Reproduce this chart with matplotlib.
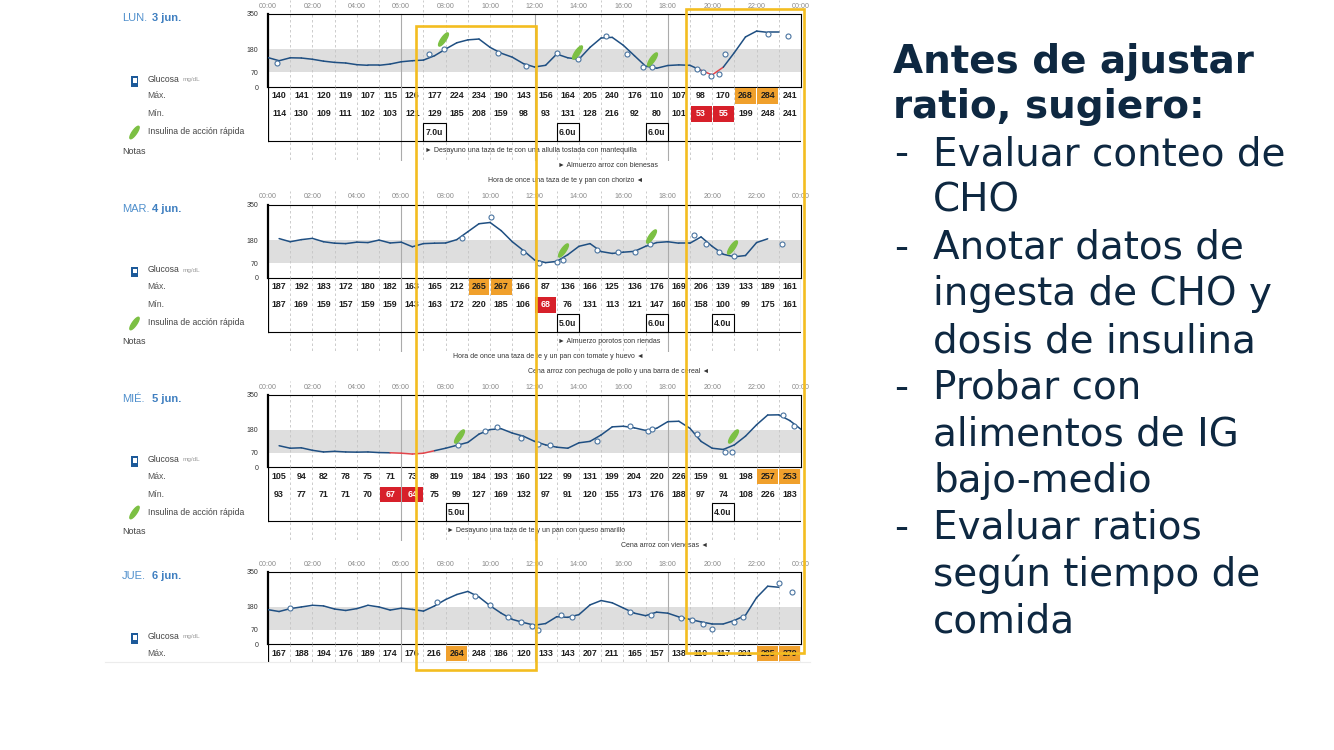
import numpy as np
import matplotlib
matplotlib.use("Agg")
import matplotlib.pyplot as plt
from matplotlib.patches import Rectangle
from matplotlib.lines import Line2D
from matplotlib.path import Path
from matplotlib.collections import LineCollection

nan = np.nan

# ---------------- data ----------------
day_names = ["LUN.", "MAR.", "MIÉ.", "JUE."]
day_dates = ["3 jun.", "4 jun.", "5 jun.", "6 jun."]
hour_labels = ["00:00", "02:00", "04:00", "06:00", "08:00", "10:00", "12:00",
               "14:00", "16:00", "18:00", "20:00", "22:00", "00:00"]
y_ticks = [0, 70, 180, 350]
target_low, target_high = 70, 180
high_limit, low_limit = 250, 70

mon_max = [140, 141, 120, 119, 107, 115, 126, 177, 224, 234, 190, 143, 156, 164, 205, 240, 176, 110, 107, 98, 170, 268, 284, 241]
mon_min = [114, 130, 109, 111, 102, 103, 121, 129, 185, 208, 159, 98, 93, 131, 128, 216, 92, 80, 101, 53, 55, 199, 248, 241]
tue_max = [187, 192, 183, 172, 180, 182, 163, 165, 212, 265, 267, 166, 87, 136, 166, 125, 136, 176, 169, 206, 139, 133, 189, 161]
tue_min = [187, 169, 159, 157, 159, 159, 143, 163, 172, 220, 185, 106, 68, 76, 131, 113, 121, 147, 160, 158, 100, 99, 175, 161]
wed_max = [105, 94, 82, 78, 75, 71, 73, 89, 119, 184, 193, 160, 122, 99, 131, 199, 204, 220, 226, 159, 91, 198, 257, 253]
wed_min = [93, 77, 71, 71, 70, 67, 64, 75, 99, 127, 169, 132, 97, 91, 120, 155, 173, 176, 188, 97, 74, 108, 226, 183]
thu_max = [167, 188, 194, 176, 189, 174, 176, 216, 264, 248, 186, 120, 133, 143, 207, 211, 165, 157, 138, 110, 117, 221, 285, 279]
thu_min = []

# CGM readings every half hour (00:00 ... 24:00)
cgm_hours = np.arange(0, 24.5, 0.5)
mon_cgm = [141, 126, 140, 139, 133, 124, 118, 115, 107, 104, 104, 110, 121, 126, 129, 150, 182, 212, 226, 230,
           190, 162, 143, 112, 96, 104, 158, 140, 133, 190, 235, 238, 200, 150, 100, 90, 103, 106, 104, 80,
           58, 95, 165, 240, 268, 262, 262, nan, nan]
tue_cgm = [nan, 187, 172, 182, 188, 172, 165, 163, 170, 168, 180, 166, 170, 148, 163, 165, 166, 182, 220, 258,
           264, 225, 172, 130, 85, 72, 78, 110, 150, 163, 125, 116, 122, 126, 150, 168, 172, 165, 165, 195,
           150, 112, 100, 106, 168, 186, nan, nan, nan]
wed_cgm = [nan, 104, 92, 94, 82, 74, 77, 74, 73, 74, 71, 70, 68, 64, 68, 80, 92, 106, 120, 160,
           182, 186, 165, 150, 125, 108, 97, 92, 118, 125, 156, 195, 198, 190, 178, 188, 220, 222, 188, 125,
           92, 86, 108, 150, 205, 252, 253, 225, 183]
thu_cgm = [167, 158, 172, 180, 188, 185, 170, 163, 172, 188, 180, 165, 174, 168, 160, 185, 216, 240, 255, 228,
           186, 150, 120, 105, 92, 100, 133, 130, 143, 190, 211, 200, 175, 150, 138, 155, 150, 132, 120, 108,
           98, 98, 115, 140, 225, 280, 275, nan, nan]

# fingerstick readings (hour, mg/dL)
mon_bg_t = [0.42, 7.25, 7.93, 10.35, 11.6, 13.0, 13.95, 15.2, 16.15, 16.9, 17.3, 19.3, 19.6, 19.95, 20.3, 20.6, 22.5, 23.4]
mon_bg_v = [117, 160, 181, 165, 101, 163, 133, 246, 156, 98, 98, 85, 72, 55, 60, 160, 255, 245]
tue_bg_t = [8.72, 10.05, 11.5, 12.2, 13.03, 13.3, 14.8, 15.78, 16.53, 17.2, 19.16, 19.73, 20.29, 21.0, 23.14]
tue_bg_v = [192, 288, 121, 68, 76, 84, 132, 121, 121, 161, 204, 163, 121, 102, 161]
wed_bg_t = [8.57, 9.77, 10.3, 11.4, 12.18, 12.7, 14.8, 16.3, 17.1, 17.3, 19.3, 20.6, 20.9, 23.17, 23.7]
wed_bg_v = [108, 177, 193, 143, 113, 108, 129, 201, 177, 185, 159, 74, 76, 252, 201]
thu_bg_t = [1.0, 7.6, 9.32, 10.0, 10.8, 11.4, 11.87, 12.18, 13.2, 13.7, 16.3, 17.25, 18.6, 19.1, 19.6, 20.0, 21.0, 21.4, 23.0, 23.6]
thu_bg_v = [175, 205, 234, 189, 133, 106, 90, 69, 141, 130, 156, 143, 127, 116, 97, 73, 109, 133, 295, 252]

# rapid insulin: hour, dose, pen icon level (mg/dL)
mon_ins_t = [7.9, 13.9, 17.3]
mon_ins_u = ["7.0u", "6.0u", "6.0u"]
mon_pen_v = [228, 167, 135]
tue_ins_t = [13.3, 17.25, 20.9]
tue_ins_u = ["5.0u", "6.0u", "4.0u"]
tue_pen_v = [132, 200, 148]
wed_ins_t = [8.6, 20.95]
wed_ins_u = ["5.0u", "4.0u"]
wed_pen_v = [149, 149]
thu_ins_t = []
thu_ins_u = []
thu_pen_v = []

# notes: hour, text, arrow side
mon_notes = [(7.05, "Desayuno una taza de te con una allulla tostada con mantequilla", "r"),
             (13.05, "Almuerzo arroz con bienesas", "r"),
             (16.9, "Hora de once una taza de te y pan con chorizo", "l")]
tue_notes = [(13.05, "Almuerzo porotos con riendas", "r"),
             (16.9, "Hora de once una taza de te y un pan con tomate y huevo", "l"),
             (19.85, "Cena arroz con pechuga de pollo y una barra de cereal", "l")]
wed_notes = [(8.05, "Desayuno una taza de te y un pan con queso amarillo", "r"),
             (19.8, "Cena arroz con vienesas", "l")]
thu_notes = []

header_lines = ["Antes de ajustar", "ratio, sugiero:"]
bullets = [["Evaluar conteo de", "CHO"],
           ["Anotar datos de", "ingesta de CHO y", "dosis de insulina"],
           ["Probar con", "alimentos de IG", "bajo-medio"],
           ["Evaluar ratios", "según tiempo de", "comida"]]

days = [
    dict(mx=mon_max, mn=mon_min, cgm=mon_cgm, bg_t=mon_bg_t, bg_v=mon_bg_v,
         ins_t=mon_ins_t, ins_u=mon_ins_u, pen_v=mon_pen_v, notes=mon_notes),
    dict(mx=tue_max, mn=tue_min, cgm=tue_cgm, bg_t=tue_bg_t, bg_v=tue_bg_v,
         ins_t=tue_ins_t, ins_u=tue_ins_u, pen_v=tue_pen_v, notes=tue_notes),
    dict(mx=wed_max, mn=wed_min, cgm=wed_cgm, bg_t=wed_bg_t, bg_v=wed_bg_v,
         ins_t=wed_ins_t, ins_u=wed_ins_u, pen_v=wed_pen_v, notes=wed_notes),
    dict(mx=thu_max, mn=thu_min, cgm=thu_cgm, bg_t=thu_bg_t, bg_v=thu_bg_v,
         ins_t=thu_ins_t, ins_u=thu_ins_u, pen_v=thu_pen_v, notes=thu_notes),
]

# ---------------- style / layout ----------------
BLUE = "#1f4f82"
RED_LINE = "#e2454b"
BAND = "#dedede"
GRID = "#c4c4c4"
GRID_MAIN = "#ababab"
ORANGE = "#f0a02c"
REDCELL = "#d7202a"
GOLD = "#f3bd20"
NAVY = "#0e2841"
LEAF = "#7cc043"
DAYBLUE = "#4f8fcc"
RF = ["Liberation Sans", "DejaVu Sans"]

W, H = 1334, 750
X0, X1 = 268, 801
TOPS = [14, 204.5, 394.7, 571.7]
ZEROS = [87, 277.7, 467.3, 644.3]
CUT = 662

fig = plt.figure(figsize=(W / 100, H / 100), dpi=100)
fig.patch.set_facecolor("white")


def fx(x):
    return x / W


def fy(y):
    return 1 - y / H


th = np.linspace(0, 2 * np.pi, 40)
ex, ey = np.cos(th), 0.30 * np.sin(th)
ang = np.deg2rad(55)
LEAF_M = Path(np.column_stack([ex * np.cos(ang) - ey * np.sin(ang),
                               ex * np.sin(ang) + ey * np.cos(ang)]), closed=True)


def gstyle(h):
    if h % 6 == 0:
        return dict(color=GRID_MAIN, lw=0.8, ls="-")
    return dict(color=GRID, lw=0.6, ls=(0, (3, 3)))


for i, d in enumerate(days):
    T, Z = TOPS[i], ZEROS[i]

    # ---- glucose chart ----
    ax = fig.add_axes([fx(X0), fy(Z), (X1 - X0) / W, (Z - T) / H])
    ax.set_xlim(0, 24)
    ax.set_ylim(0, 350)
    ax.axhspan(target_low, target_high, color=BAND, lw=0, zorder=0)
    above = 1 + 14 / (Z - T)
    for h in range(1, 24):
        ax.axvline(h, zorder=1, ymax=(above if h % 2 else 1), clip_on=False, **gstyle(h))

    v = np.asarray(d["cgm"], float)
    pts = np.column_stack([cgm_hours, v])
    segs = np.stack([pts[:-1], pts[1:]], axis=1)
    ok = ~np.isnan(segs).any(axis=(1, 2))
    segs = segs[ok]
    low = np.minimum(segs[:, 0, 1], segs[:, 1, 1]) < low_limit
    lc = LineCollection(segs, colors=[RED_LINE if l else BLUE for l in low],
                        linewidths=1.1, capstyle="round", joinstyle="round", zorder=3)
    ax.add_collection(lc)
    ax.scatter(d["bg_t"], d["bg_v"], s=13, facecolor="white", edgecolor="#4a74a0",
               linewidth=0.8, zorder=4)
    if d["ins_t"]:
        ax.plot(d["ins_t"], d["pen_v"], ls="none", marker=LEAF_M, ms=9.5,
                color=LEAF, mec=LEAF, zorder=5)

    for s in ["top", "right", "bottom"]:
        ax.spines[s].set_linewidth(0.8)
        ax.spines[s].set_color("black")
    ax.spines["left"].set_linewidth(1.6)
    ax.set_xticks(range(0, 25, 2))
    ax.set_xticklabels(hour_labels)
    ax.xaxis.set_ticks_position("top")
    ax.tick_params(axis="x", length=0, pad=3, labelsize=5.1, labelcolor="#8a8a8a",
                   labeltop=True, labelbottom=False)
    ax.set_yticks(y_ticks)
    ax.tick_params(axis="y", length=0, pad=7, labelsize=5, labelcolor="#333333")
    for lab in ax.get_xticklabels() + ax.get_yticklabels():
        lab.set_fontfamily(RF)

    # ---- table + notes area ----
    Zb = min(Z + 74, CUT)
    hgt = Zb - Z
    tab = fig.add_axes([fx(X0), fy(Zb), (X1 - X0) / W, hgt / H])
    tab.set_xlim(0, 24)
    tab.set_ylim(hgt, 0)
    tab.axis("off")
    for h in range(1, 24):
        tab.plot([h, h], [0, 74], zorder=1, **gstyle(h))
    tab.plot([0, 0], [0, 54], color="black", lw=1.6, zorder=4)
    tab.plot([24, 24], [0, 54], color="black", lw=0.8, zorder=4)
    tab.plot([0, 24], [54, 54], color="black", lw=0.8, zorder=4)

    for row_vals, yc in ((d["mx"], 9), (d["mn"], 27)):
        for h, val in enumerate(row_vals):
            col = ORANGE if val > high_limit else (REDCELL if val < low_limit else None)
            if col:
                tab.add_patch(Rectangle((h + 0.03, yc - 7.8), 0.94, 15.6, color=col, lw=0, zorder=2))
            tab.text(h + 0.5, yc, str(val), ha="center", va="center", fontsize=6.4,
                     weight="bold", family=RF, color="white" if val < low_limit else "#1e1e1e",
                     zorder=3)

    for t_ins, u in zip(d["ins_t"], d["ins_u"]):
        c = int(t_ins)
        tab.add_patch(Rectangle((c, 36), 1, 18, fc="white", ec="black", lw=0.8, zorder=3))
        tab.text(c + 0.08, 45.5, u, ha="left", va="center", fontsize=6.2, weight="bold",
                 family=RF, color="#1e1e1e", zorder=4)

    for k, (h, txt, side) in enumerate(d["notes"]):
        yk = 63.5 + 15 * k
        if side == "r":
            tab.text(h, yk, "► " + txt, ha="left", va="center", fontsize=5, family=RF,
                     color="#333333", clip_on=False)
        else:
            tab.text(h, yk, txt + " ◄", ha="right", va="center", fontsize=5, family=RF,
                     color="#333333", clip_on=False)

    # ---- left labels ----
    fig.text(fx(122), fy(T + 4.3), day_names[i], fontsize=8, color=DAYBLUE, family=RF,
             va="center", ha="left")
    fig.text(fx(151.5), fy(T + 4.3), day_dates[i], fontsize=8, color="#3f7fc0", family=RF,
             weight="bold", va="center", ha="left")
    fig.add_artist(Rectangle((fx(131), fy(Z - 0.5)), 7 / W, 10.5 / H, transform=fig.transFigure,
                             fc="#1d5a9a", ec="none"))
    fig.add_artist(Rectangle((fx(132.5), fy(Z - 4.5)), 4 / W, 4.5 / H, transform=fig.transFigure,
                             fc="white", ec="none"))
    fig.text(fx(147.5), fy(Z - 8), "Glucosa", fontsize=6.2, color="#444444", family=RF, va="center")
    fig.text(fx(182.5), fy(Z - 7.5), "mg/dL", fontsize=4.6, color="#9a9a9a", family=RF, va="center")
    fig.text(fx(147.5), fy(Z + 9), "Máx.", fontsize=6.2, color="#555555", family=RF, va="center")
    if Z + 27 < CUT:
        fig.text(fx(147.5), fy(Z + 27), "Mín.", fontsize=6.2, color="#555555", family=RF, va="center")
    if Z + 45 < CUT:
        fig.add_artist(Line2D([fx(134)], [fy(Z + 45)], transform=fig.transFigure, marker=LEAF_M,
                              ms=9, color=LEAF, mec=LEAF, ls="none"))
        fig.text(fx(147.5), fy(Z + 45), "Insulina de acción rápida", fontsize=6.2, color="#444444",
                 family=RF, va="center")
    if Z + 64 < CUT:
        fig.text(fx(122), fy(Z + 64), "Notas", fontsize=6.5, color="#444444", family=RF, va="center")

# faint bottom edge of the report crop
fig.add_artist(Line2D([fx(105), fx(810)], [fy(CUT), fy(CUT)], transform=fig.transFigure,
                      color="#ececec", lw=0.8))

# ---- highlight frames ----
for (xa, xb, ya, yb) in ((416, 536, 26, 670), (685.5, 804, 9.3, 653)):
    fig.add_artist(Rectangle((fx(xa), fy(yb)), (xb - xa) / W, (yb - ya) / H,
                             transform=fig.transFigure, fill=False, ec=GOLD, lw=1.9, zorder=20))

# ---- right text ----
for k, line in enumerate(header_lines):
    fig.text(fx(893), fy(72.7 + 45.6 * k), line, fontsize=28, weight="bold", color=NAVY,
             family="DejaVu Sans", va="baseline", ha="left")
base = 165.3
n = 0
for item in bullets:
    for j, line in enumerate(item):
        yb = base + 46.7 * n
        if j == 0:
            fig.text(fx(894), fy(yb), "-", fontsize=28, color=NAVY, family="DejaVu Sans",
                     va="baseline", ha="left")
        fig.text(fx(933), fy(yb), line, fontsize=28, color=NAVY, family="DejaVu Sans",
                 va="baseline", ha="left")
        n += 1

fig.savefig("out.png", dpi=100, facecolor="white")
